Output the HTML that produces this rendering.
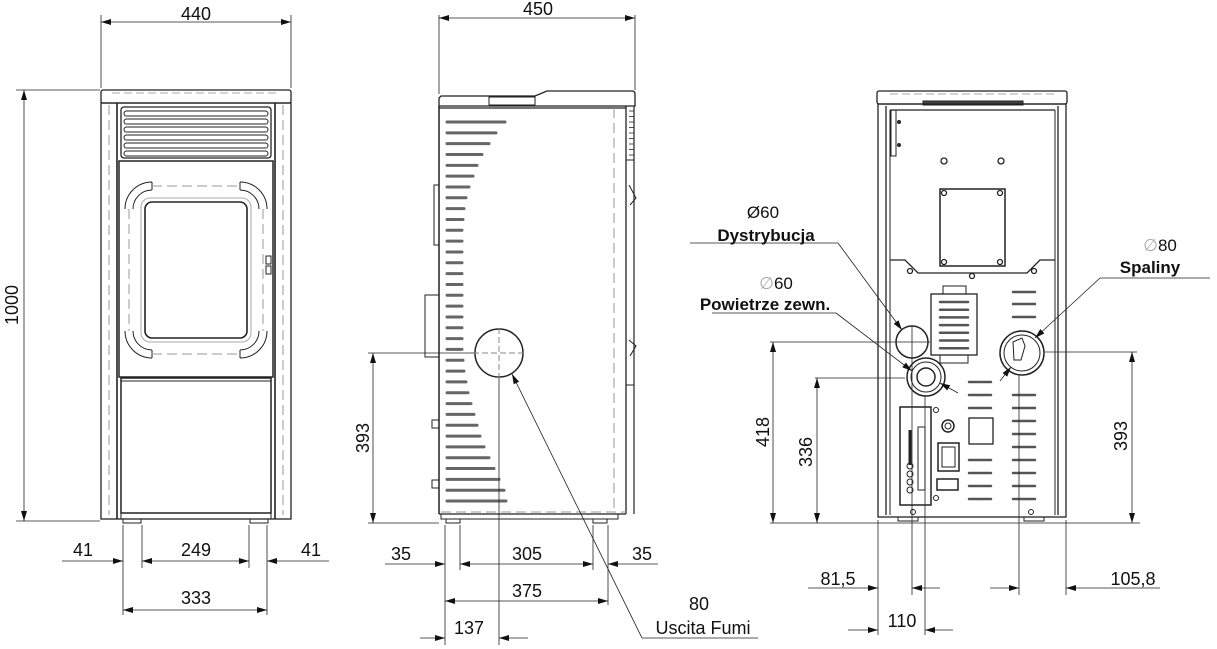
<!DOCTYPE html>
<html><head><meta charset="utf-8"><style>
html,body{margin:0;padding:0;background:#fff;}
svg{display:block;}
text{font-family:"Liberation Sans",sans-serif;fill:#111;}
</style></head><body>
<svg id="s" width="1217" height="649" viewBox="0 0 1217 649" xmlns="http://www.w3.org/2000/svg">
<defs>
<marker id="a" viewBox="0 0 10 6" refX="10" refY="3" markerWidth="10" markerHeight="6" orient="auto-start-reverse" markerUnits="userSpaceOnUse"><path d="M0,0 L10,3 L0,6 z" fill="#111"/></marker>
</defs>
<g stroke="#222" fill="none" stroke-width="1">
<!-- ========== FRONT VIEW ========== -->
<line x1="101" y1="15" x2="101" y2="88" stroke-width="0.8"/>
<line x1="291" y1="15" x2="291" y2="88" stroke-width="0.8"/>
<line x1="101" y1="22" x2="291" y2="22" marker-start="url(#a)" marker-end="url(#a)" stroke-width="0.8"/>
<line x1="16" y1="90" x2="100" y2="90" stroke-width="0.8"/>
<line x1="16" y1="521" x2="100" y2="521" stroke-width="0.8"/>
<line x1="24" y1="90" x2="24" y2="521" marker-start="url(#a)" marker-end="url(#a)" stroke-width="0.8"/>
<rect x="101" y="90" width="190" height="13" rx="2" stroke-width="1.3"/>
<line x1="112" y1="93" x2="280" y2="93" stroke="#aaa" stroke-dasharray="8 4"/>
<rect x="101" y="103" width="190" height="416" stroke-width="1.3"/>
<line x1="117" y1="103" x2="117" y2="519" stroke-width="1.6"/>
<line x1="275" y1="103" x2="275" y2="519" stroke-width="1.6"/>
<line x1="109" y1="105" x2="109" y2="515" stroke="#999" stroke-dasharray="10 5"/>
<line x1="283" y1="105" x2="283" y2="515" stroke="#999" stroke-dasharray="10 5"/>
<rect x="121" y="107" width="150" height="51" rx="3" stroke-width="1.3"/>
<rect x="124" y="111" width="144" height="5" rx="2.5"/>
<rect x="124" y="119" width="144" height="5" rx="2.5"/>
<rect x="124" y="127" width="144" height="5" rx="2.5"/>
<rect x="124" y="135" width="144" height="5" rx="2.5"/>
<rect x="124" y="143" width="144" height="5" rx="2.5"/>
<rect x="124" y="151" width="144" height="5" rx="2.5"/>
<rect x="119" y="161" width="154" height="216" stroke-width="1.5"/>
<rect x="145" y="202" width="102" height="136" rx="7" stroke-width="1.6"/>
<rect x="141" y="198" width="110" height="144" rx="9" stroke="#aaa"/>
<path d="M152,182 A27,27 0 0 0 125,209 M152,190 A19,19 0 0 0 133,209 M152,182 V190"/>
<path d="M240,182 A27,27 0 0 1 267,209 M240,190 A19,19 0 0 1 259,209 M240,182 V190"/>
<path d="M152,358 A27,27 0 0 1 125,331 M152,350 A19,19 0 0 1 133,331 M152,350 V358"/>
<path d="M240,358 A27,27 0 0 0 267,331 M240,350 A19,19 0 0 0 259,331 M240,350 V358"/>
<path d="M152,186 H240 M152,354 H240 M129,209 V331 M263,209 V331" stroke="#999" stroke-dasharray="10 5"/>
<rect x="266" y="256" width="5" height="8"/><rect x="266" y="266" width="5" height="8"/>
<rect x="121" y="378" width="150" height="135" stroke-width="1.5"/>
<line x1="121" y1="381" x2="271" y2="381"/>
<rect x="121" y="513" width="150" height="6"/>
<rect x="123" y="519" width="18" height="4"/><rect x="250" y="519" width="18" height="4"/>
<line x1="123" y1="525" x2="123" y2="615" stroke-width="0.8"/>
<line x1="142" y1="525" x2="142" y2="568" stroke-width="0.8"/>
<line x1="249" y1="525" x2="249" y2="568" stroke-width="0.8"/>
<line x1="267" y1="525" x2="267" y2="615" stroke-width="0.8"/>
<line x1="62" y1="561" x2="123" y2="561" marker-end="url(#a)" stroke-width="0.8"/>
<line x1="142" y1="561" x2="249" y2="561" marker-start="url(#a)" marker-end="url(#a)" stroke-width="0.8"/>
<line x1="329" y1="561" x2="267" y2="561" marker-end="url(#a)" stroke-width="0.8"/>
<line x1="123" y1="610" x2="267" y2="610" marker-start="url(#a)" marker-end="url(#a)" stroke-width="0.8"/>

<!-- ========== SIDE VIEW ========== -->
<line x1="439" y1="15" x2="439" y2="94" stroke-width="0.8"/>
<line x1="635" y1="15" x2="635" y2="90" stroke-width="0.8"/>
<line x1="439" y1="18" x2="635" y2="18" marker-start="url(#a)" marker-end="url(#a)" stroke-width="0.8"/>
<path d="M441,96 H535 L547,91 H632 Q635,91 635,94 V106 H439 V98 Z" stroke-width="1.3"/>
<rect x="489" y="97" width="46" height="8"/>
<line x1="439" y1="108" x2="626" y2="108" stroke-width="1.3"/>
<line x1="439" y1="106" x2="439" y2="514" stroke-width="1.5"/>
<line x1="626" y1="106" x2="626" y2="514" stroke-width="1.3"/>
<line x1="634" y1="106" x2="634" y2="514" stroke-width="1.2"/>
<line x1="614" y1="108" x2="614" y2="514" stroke="#999" stroke-dasharray="10 5"/>
<line x1="441" y1="512" x2="626" y2="512" stroke="#999" stroke-dasharray="10 5"/>
<path d="M629,185 L636,198 L630,205 M629,340 L636,346 L630,356" />
<line x1="626" y1="385" x2="634" y2="385"/>
<line x1="626" y1="160" x2="634" y2="160"/>
<rect x="434" y="185" width="5" height="60"/>
<rect x="425" y="295" width="14" height="62"/>
<rect x="432" y="420" width="7" height="8"/><rect x="432" y="480" width="7" height="8"/>
<line x1="439" y1="514" x2="626" y2="514" stroke-width="1.3"/>
<rect x="441" y="514" width="177" height="5"/>
<rect x="446" y="519" width="14" height="4"/><rect x="593" y="519" width="14" height="4"/>
<g id="sideslots" stroke-width="3" stroke-linecap="round" stroke="#666"></g>
<g id="fins" stroke-width="0.8"></g>
<circle cx="499" cy="353" r="24" stroke-width="1.5"/>
<line x1="473" y1="353" x2="525" y2="353" stroke="#888" stroke-dasharray="6 3"/>
<line x1="499" y1="328" x2="499" y2="378" stroke="#888" stroke-dasharray="6 3"/>
<line x1="368" y1="353" x2="474" y2="353" stroke-width="0.8"/>
<line x1="368" y1="523" x2="439" y2="523" stroke-width="0.8"/>
<line x1="373" y1="353" x2="373" y2="523" marker-start="url(#a)" marker-end="url(#a)" stroke-width="0.8"/>
<line x1="445" y1="525" x2="445" y2="645" stroke-width="0.8"/>
<line x1="460" y1="525" x2="460" y2="570" stroke-width="0.8"/>
<line x1="593" y1="525" x2="593" y2="570" stroke-width="0.8"/>
<line x1="608" y1="525" x2="608" y2="605" stroke-width="0.8"/>
<line x1="499" y1="378" x2="499" y2="645" stroke-width="0.8"/>
<line x1="385" y1="564" x2="445" y2="564" marker-end="url(#a)" stroke-width="0.8"/>
<line x1="460" y1="564" x2="593" y2="564" marker-start="url(#a)" marker-end="url(#a)" stroke-width="0.8"/>
<line x1="658" y1="564" x2="608" y2="564" marker-end="url(#a)" stroke-width="0.8"/>
<line x1="445" y1="601" x2="608" y2="601" marker-start="url(#a)" marker-end="url(#a)" stroke-width="0.8"/>
<line x1="420" y1="638" x2="445" y2="638" marker-end="url(#a)" stroke-width="0.8"/>
<line x1="528" y1="638" x2="499" y2="638" marker-end="url(#a)" stroke-width="0.8"/>
<line x1="642" y1="638" x2="512" y2="374" marker-end="url(#a)" stroke-width="0.8"/>
<line x1="642" y1="638" x2="758" y2="638" stroke-width="0.8"/>

<!-- ========== BACK VIEW ========== -->
<rect x="877" y="91" width="190" height="13" rx="2" stroke-width="1.3"/>
<line x1="890" y1="94" x2="1055" y2="94" stroke="#aaa" stroke-dasharray="8 4"/>
<rect x="923" y="101" width="100" height="4" fill="#444"/>
<rect x="878" y="104" width="188" height="413" stroke-width="1.3"/>
<line x1="886" y1="106" x2="886" y2="515" stroke-width="1.3"/>
<line x1="1058" y1="106" x2="1058" y2="515" stroke-width="1.3"/>
<line x1="890" y1="110" x2="1055" y2="110" stroke-width="1.3"/>
<line x1="890" y1="110" x2="890" y2="515"/>
<line x1="1055" y1="110" x2="1055" y2="515"/>
<rect x="891" y="110" width="5" height="46"/>
<path d="M890,260 H905 L918,273 H1027 L1040,260 H1055" stroke-width="1.3"/>
<rect x="940" y="189" width="65" height="77" stroke-width="1.5"/>
<g stroke-width="1.3">
<circle cx="944" cy="161" r="3"/><circle cx="1001" cy="161" r="3"/>
<circle cx="944" cy="193" r="2.5"/><circle cx="1000" cy="193" r="2.5"/>
<circle cx="944" cy="262" r="2.5"/><circle cx="1000" cy="262" r="2.5"/>
<circle cx="910" cy="271" r="2.5"/><circle cx="972" cy="276" r="2.5"/><circle cx="1034" cy="271" r="2.5"/>
</g>
<circle cx="899" cy="122" r="1.5" fill="#333"/><circle cx="899" cy="145" r="1.5" fill="#333"/>
<rect x="943" y="286" width="23" height="8"/>
<rect x="931" y="294" width="46" height="61" stroke-width="1.3"/>
<rect x="940" y="355" width="28" height="8"/>
<g id="grill" stroke-width="2.5" stroke-linecap="round" stroke="#555"></g>
<circle cx="912" cy="342" r="16" stroke-width="1.5"/>
<circle cx="926" cy="377" r="19" stroke-width="1.5"/>
<circle cx="926" cy="377" r="15"/>
<circle cx="926" cy="377" r="9" stroke-width="1.5"/>
<circle cx="1022" cy="353" r="22" stroke-width="1.5"/>
<circle cx="1022" cy="353" r="18"/>
<path d="M1013,342 L1022,338 L1025,346 L1021,360 L1014,360 Z"/>
<g id="backslots" stroke-width="2.5" stroke-linecap="round" stroke="#555"></g>
<rect x="900" y="407" width="31" height="98" stroke-width="1.5"/>
<rect x="918" y="427" width="7" height="63"/>
<line x1="910" y1="430" x2="910" y2="465" stroke-width="3"/>
<circle cx="910" cy="466" r="3"/><circle cx="910" cy="474" r="3"/><circle cx="910" cy="482" r="3"/><circle cx="910" cy="490" r="3"/>
<circle cx="948" cy="426" r="6" stroke-width="1.5"/><circle cx="948" cy="426" r="3"/>
<rect x="938" y="443" width="21" height="28" stroke-width="1.5"/>
<rect x="942" y="447" width="13" height="20"/>
<rect x="937" y="479" width="21" height="11" stroke-width="1.5"/>
<rect x="969" y="418" width="24" height="26" stroke-width="1.3"/>
<circle cx="936" cy="410" r="2.5"/><circle cx="936" cy="498" r="2.5"/>
<circle cx="913" cy="512" r="2.5"/><circle cx="1031" cy="512" r="2.5"/>
<rect x="898" y="517" width="20" height="4"/><rect x="1024" y="517" width="20" height="4"/>
<!-- back dims -->
<line x1="770" y1="342" x2="930" y2="342" stroke-width="0.8"/>
<line x1="815" y1="378" x2="905" y2="378" stroke-width="0.8"/>
<line x1="1045" y1="352" x2="1137" y2="352" stroke-width="0.8"/>
<line x1="770" y1="523" x2="1140" y2="523" stroke-width="0.8"/>
<line x1="773" y1="342" x2="773" y2="523" marker-start="url(#a)" marker-end="url(#a)" stroke-width="0.8"/>
<line x1="817" y1="378" x2="817" y2="523" marker-start="url(#a)" marker-end="url(#a)" stroke-width="0.8"/>
<line x1="1132" y1="352" x2="1132" y2="523" marker-start="url(#a)" marker-end="url(#a)" stroke-width="0.8"/>
<line x1="912" y1="326" x2="912" y2="595" stroke-width="0.8"/>
<line x1="925" y1="396" x2="925" y2="635" stroke-width="0.8"/>
<line x1="878" y1="520" x2="878" y2="635" stroke-width="0.8"/>
<line x1="1019" y1="375" x2="1019" y2="595" stroke-width="0.8"/>
<line x1="1066" y1="520" x2="1066" y2="595" stroke-width="0.8"/>
<line x1="808" y1="588" x2="878" y2="588" marker-end="url(#a)" stroke-width="0.8"/>
<line x1="940" y1="588" x2="912" y2="588" marker-end="url(#a)" stroke-width="0.8"/>
<line x1="990" y1="588" x2="1019" y2="588" marker-end="url(#a)" stroke-width="0.8"/>
<line x1="1160" y1="588" x2="1066" y2="588" marker-end="url(#a)" stroke-width="0.8"/>
<line x1="848" y1="630" x2="878" y2="630" marker-end="url(#a)" stroke-width="0.8"/>
<line x1="953" y1="630" x2="925" y2="630" marker-end="url(#a)" stroke-width="0.8"/>
<!-- leaders -->
<line x1="690" y1="243" x2="838" y2="243" stroke-width="0.8"/>
<line x1="838" y1="243" x2="902" y2="330" marker-end="url(#a)" stroke-width="0.8"/>
<line x1="712" y1="313" x2="836" y2="313" stroke-width="0.8"/>
<line x1="836" y1="313" x2="912" y2="371" marker-end="url(#a)" stroke-width="0.8"/>
<line x1="958" y1="393" x2="940" y2="383" marker-end="url(#a)" stroke-width="0.8"/>
<line x1="1100" y1="278" x2="1210" y2="278" stroke-width="0.8"/>
<line x1="1100" y1="278" x2="1035" y2="338" marker-end="url(#a)" stroke-width="0.8"/>
<line x1="1000" y1="381" x2="1011" y2="367" marker-end="url(#a)" stroke-width="0.8"/>
</g>
<g font-size="18" text-anchor="middle">
<text x="196" y="20">440</text>
<text x="538" y="15">450</text>
<text transform="translate(18,305) rotate(-90)">1000</text>
<text x="83" y="556">41</text>
<text x="196" y="556">249</text>
<text x="311" y="556">41</text>
<text x="196" y="604">333</text>
<text transform="translate(369,438) rotate(-90)">393</text>
<text x="401" y="560">35</text>
<text x="527" y="560">305</text>
<text x="642" y="560">35</text>
<text x="527" y="597">375</text>
<text x="469" y="634">137</text>
<text x="699" y="610">80</text>
<text x="703" y="634">Uscita Fumi</text>
<text transform="translate(769,432) rotate(-90)">418</text>
<text transform="translate(812,452) rotate(-90)">336</text>
<text transform="translate(1127,436) rotate(-90)">393</text>
<text x="838" y="585">81,5</text>
<text x="902" y="627">110</text>
<text x="1133" y="585">105,8</text>
</g>
<g font-size="17" text-anchor="middle" font-weight="bold">
<text x="763" y="218" font-weight="normal">Ø60</text>
<text x="766" y="241">Dystrybucja</text>
<text x="776" y="289" font-weight="normal"><tspan fill="#aaa">∅</tspan>60</text>
<text x="765" y="310">Powietrze zewn.</text>
<text x="1160" y="251" font-weight="normal"><tspan fill="#aaa">∅</tspan>80</text>
<text x="1150" y="273">Spaliny</text>
</g>
</svg>
<script>
var NS="http://www.w3.org/2000/svg";
function L(g,x1,y1,x2,y2){var l=document.createElementNS(NS,"line");l.setAttribute("x1",x1);l.setAttribute("y1",y1);l.setAttribute("x2",x2);l.setAttribute("y2",y2);document.getElementById(g).appendChild(l);}
var w=[58,49,42,35,30,26,22,19,17,16,15,15,15,15,15,15,15,15,15,15,15,15,16,17,19,21,24,27,30,33,37,42,47,52,57,59];
for(var i=0;i<w.length;i++){var y=122+i*10.83;L("sideslots",447,y,447+w[i],y);}
for(var i=0;i<9;i++){var y=111+i*5.5;L("fins",629,y,634,y);}
for(var i=0;i<7;i++){var y=302+i*7.7;L("grill",940,y,968,y);}
[292,304,317,395,408,421,434,447,460,473,486,499].forEach(function(y){L("backslots",1013,y,1035,y);});
[382,395,408,460,473,486,499].forEach(function(y){L("backslots",969,y,991,y);});
</script>
</body></html>
